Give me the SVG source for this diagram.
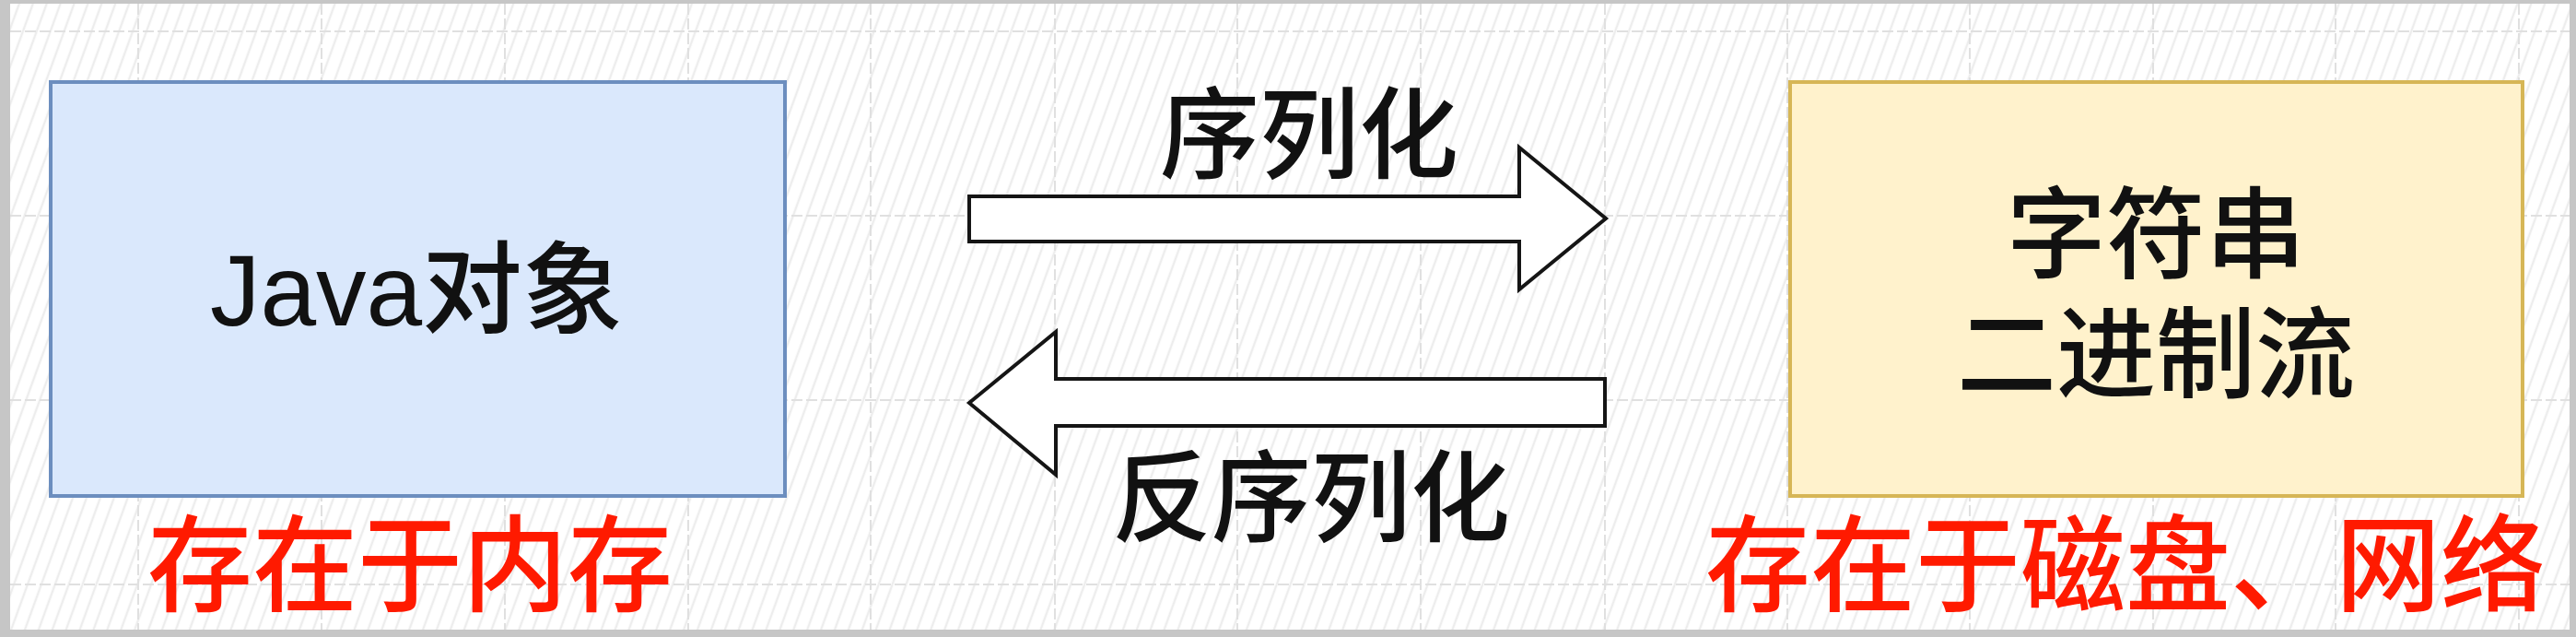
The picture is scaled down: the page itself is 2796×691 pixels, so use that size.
<svg xmlns="http://www.w3.org/2000/svg" width="2796" height="691" viewBox="0 0 2796 691">
  <style>
    .txt { font-family: "Liberation Sans", "Noto Sans CJK SC", sans-serif; fill: #111111; text-anchor: middle; font-weight: 500; }
    .red { font-family: "Liberation Sans", "Noto Sans CJK SC", sans-serif; fill: #ff1a00; text-anchor: middle; font-size: 114px; font-weight: 500; }
    .grid { stroke: #e0e0e0; stroke-width: 2; stroke-dasharray: 12 4; fill: none; }
    .arrow { fill: #ffffff; stroke: #151515; stroke-width: 4; stroke-linejoin: miter; }
  </style>
  <defs>
    <pattern id="hatch" patternUnits="userSpaceOnUse" width="14" height="14" patternTransform="rotate(20)">
      <line x1="7" y1="0" x2="7" y2="14" stroke="#ededed" stroke-width="2.5"/>
    </pattern>
  </defs>

  <g id="background">
    <rect x="0" y="0" width="2796" height="691" fill="#c6c6c6"/>
    <rect x="11" y="4" width="2778" height="679" fill="#ffffff"/>
    <rect x="11" y="4" width="2778" height="679" fill="url(#hatch)"/>
    <g class="grid">
      <line x1="150" y1="4" x2="150" y2="683"/>
      <line x1="349" y1="4" x2="349" y2="683"/>
      <line x1="548" y1="4" x2="548" y2="683"/>
      <line x1="747" y1="4" x2="747" y2="683"/>
      <line x1="945" y1="4" x2="945" y2="683"/>
      <line x1="1145" y1="4" x2="1145" y2="683"/>
      <line x1="1343" y1="4" x2="1343" y2="683"/>
      <line x1="1542" y1="4" x2="1542" y2="683"/>
      <line x1="1742" y1="4" x2="1742" y2="683"/>
      <line x1="1940" y1="4" x2="1940" y2="683"/>
      <line x1="2138" y1="4" x2="2138" y2="683"/>
      <line x1="2337" y1="4" x2="2337" y2="683"/>
      <line x1="2535" y1="4" x2="2535" y2="683"/>
      <line x1="2734" y1="4" x2="2734" y2="683"/>
      <line x1="11" y1="34" x2="2789" y2="34"/>
      <line x1="11" y1="234" x2="2789" y2="234"/>
      <line x1="11" y1="434" x2="2789" y2="434"/>
      <line x1="11" y1="634" x2="2789" y2="634"/>
    </g>
  </g>

  <g id="node-java">
    <rect x="55" y="89" width="797" height="449" fill="#dae8fc" stroke="#6c8ebf" stroke-width="4"/>
    <text class="txt" x="452" y="353" font-size="109">Java对象</text>
  </g>

  <g id="node-string">
    <rect x="1943" y="89" width="795" height="449" fill="#fff2cc" stroke="#d6b656" stroke-width="4"/>
    <text class="txt" x="2340" y="293" font-size="108">字符串</text>
    <text class="txt" x="2340" y="423" font-size="108">二进制流</text>
  </g>

  <g id="connectors">
    <polygon class="arrow" points="1052,213 1649,213 1649,160 1743,237 1649,314 1649,262 1052,262"/>
    <text class="txt" x="1421" y="185" font-size="108">序列化</text>
    <polygon class="arrow" points="1742,411 1146,411 1146,360 1052,437 1146,515 1146,462 1742,462"/>
    <text class="txt" x="1423" y="579" font-size="108">反序列化</text>
  </g>

  <g id="label-memory">
    <text class="red" x="445" y="654">存在于内存</text>
  </g>

  <g id="label-disk">
    <text class="red" x="2307" y="654">存在于磁盘、网络</text>
  </g>
</svg>
